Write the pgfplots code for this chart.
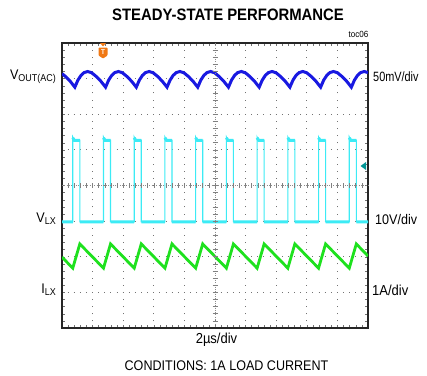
\documentclass[border=0pt]{standalone}
\usepackage{fontspec}
\setmainfont{Liberation Sans}[FakeStretch=0.9]
\usepackage{graphicx}
\usepackage{pgfplots}
\pgfplotsset{compat=1.18}
\definecolor{trblue}{RGB}{25,25,225}
\definecolor{trcyan}{RGB}{60,235,245}
\definecolor{trgreen}{RGB}{30,225,30}
\definecolor{trorange}{RGB}{240,120,20}
\definecolor{trteal}{RGB}{0,150,150}
\begin{document}
\begin{tikzpicture}
\path[use as bounding box] (0,0) rectangle (427bp,-376bp);
\begin{axis}[
  at={(62bp,-328bp)}, anchor=south west,
  scale only axis, width=306bp, height=285bp,
  xmin=0, xmax=10, ymin=0, ymax=8,
  xtick={0,...,10}, ytick={0,...,8},
  minor x tick num=4, minor y tick num=4,
  xticklabels={}, yticklabels={},
  tick align=inside,
  major tick length=3bp, minor tick length=3bp,
  tick style={black!55, line width=0.5bp},
  axis line style={black!85, line width=1.2bp},
  grid=major,
  x grid style={black!55, line width=1bp, dash pattern=on 1bp off 6.125bp, dash phase=0.5bp},
  y grid style={black!55, line width=1bp, dash pattern=on 1bp off 5.12bp, dash phase=0.5bp},
  unbounded coords=jump,
]
% VOUT(AC) ripple
\addplot[trblue, line width=3bp] coordinates {
(0,7.14) (0.124,7.055) (0.274,6.92)
(0.42,6.76) (0.52,6.958) (0.62,7.09) (0.72,7.169) (0.84,7.20) (0.97,7.165) (1.12,7.059) (1.27,6.927)
(1.424,6.76) (1.524,6.958) (1.624,7.09) (1.724,7.169) (1.844,7.20) (1.974,7.165) (2.124,7.059) (2.274,6.927)
(2.428,6.76) (2.528,6.958) (2.628,7.09) (2.728,7.169) (2.848,7.20) (2.978,7.165) (3.128,7.059) (3.278,6.927)
(3.432,6.76) (3.532,6.958) (3.632,7.09) (3.732,7.169) (3.852,7.20) (3.982,7.165) (4.132,7.059) (4.282,6.927)
(4.436,6.76) (4.536,6.958) (4.636,7.09) (4.736,7.169) (4.856,7.20) (4.986,7.165) (5.136,7.059) (5.286,6.927)
(5.44,6.76) (5.54,6.958) (5.64,7.09) (5.74,7.169) (5.86,7.20) (5.99,7.165) (6.14,7.059) (6.29,6.927)
(6.444,6.76) (6.544,6.958) (6.644,7.09) (6.744,7.169) (6.864,7.20) (6.994,7.165) (7.144,7.059) (7.294,6.927)
(7.448,6.76) (7.548,6.958) (7.648,7.09) (7.748,7.169) (7.868,7.20) (7.998,7.165) (8.148,7.059) (8.298,6.927)
(8.452,6.76) (8.552,6.958) (8.652,7.09) (8.752,7.169) (8.872,7.20) (9.002,7.165) (9.152,7.059) (9.302,6.927)
(9.456,6.76) (9.556,6.958) (9.656,7.09) (9.756,7.169) (9.876,7.20) (10,7.17)
};
% VLX switching node (thin full trace)
\addplot[trcyan, line width=1.1bp] coordinates {
(0,2.98)
(0.352,2.98) (0.352,5.36) (0.400,5.27) (0.582,5.27) (0.582,2.98)
(1.356,2.98) (1.356,5.36) (1.404,5.27) (1.586,5.27) (1.586,2.98)
(2.360,2.98) (2.360,5.36) (2.408,5.27) (2.590,5.27) (2.590,2.98)
(3.364,2.98) (3.364,5.36) (3.412,5.27) (3.594,5.27) (3.594,2.98)
(4.368,2.98) (4.368,5.36) (4.416,5.27) (4.598,5.27) (4.598,2.98)
(5.372,2.98) (5.372,5.36) (5.420,5.27) (5.602,5.27) (5.602,2.98)
(6.376,2.98) (6.376,5.36) (6.424,5.27) (6.606,5.27) (6.606,2.98)
(7.380,2.98) (7.380,5.36) (7.428,5.27) (7.610,5.27) (7.610,2.98)
(8.384,2.98) (8.384,5.36) (8.432,5.27) (8.614,5.27) (8.614,2.98)
(9.388,2.98) (9.388,5.36) (9.436,5.27) (9.618,5.27) (9.618,2.98)
(10,2.98)
};
% VLX noisy flat levels (thicker)
\addplot[trcyan, line width=3bp] coordinates {
(0,2.98) (0.352,2.98) (0.46,nan)
(0.352,5.34) (0.400,5.27) (0.582,5.27) (0.6,nan)
(0.582,2.98) (1.356,2.98) (1.37,nan)
(1.356,5.34) (1.404,5.27) (1.586,5.27) (1.6,nan)
(1.586,2.98) (2.360,2.98) (2.37,nan)
(2.360,5.34) (2.408,5.27) (2.590,5.27) (2.6,nan)
(2.590,2.98) (3.364,2.98) (3.37,nan)
(3.364,5.34) (3.412,5.27) (3.594,5.27) (3.6,nan)
(3.594,2.98) (4.368,2.98) (4.37,nan)
(4.368,5.34) (4.416,5.27) (4.598,5.27) (4.6,nan)
(4.598,2.98) (5.372,2.98) (5.38,nan)
(5.372,5.34) (5.420,5.27) (5.602,5.27) (5.61,nan)
(5.602,2.98) (6.376,2.98) (6.38,nan)
(6.376,5.34) (6.424,5.27) (6.606,5.27) (6.61,nan)
(6.606,2.98) (7.380,2.98) (7.39,nan)
(7.380,5.34) (7.428,5.27) (7.610,5.27) (7.62,nan)
(7.610,2.98) (8.384,2.98) (8.39,nan)
(8.384,5.34) (8.432,5.27) (8.614,5.27) (8.62,nan)
(8.614,2.98) (9.388,2.98) (9.39,nan)
(9.388,5.34) (9.436,5.27) (9.618,5.27) (9.62,nan)
(9.618,2.98) (10,2.98)
};
% ILX inductor current
\addplot[trgreen, line width=2.8bp] coordinates {
(0,1.99) (0.352,1.68) (0.582,2.36) (1.356,1.68) (1.586,2.36) (2.36,1.68) (2.59,2.36)
(3.364,1.68) (3.594,2.36) (4.368,1.68) (4.598,2.36) (5.372,1.68) (5.602,2.36)
(6.376,1.68) (6.606,2.36) (7.38,1.68) (7.61,2.36) (8.384,1.68) (8.614,2.36)
(9.388,1.68) (9.618,2.36) (10,2.02)
};
\end{axis}
% center graticule cross with fine ticks
\draw[black!45, line width=0.8bp, dash pattern=on 0.9bp off 1.4bp] (62bp,-185.5bp) -- (368bp,-185.5bp);
\draw[black!45, line width=0.8bp, dash pattern=on 0.9bp off 1.4bp] (215bp,-43bp) -- (215bp,-328bp);
\foreach \i in {1,...,49}{
  \draw[black!50, line width=0.6bp] ({62bp+\i*6.12bp},-183bp) -- ({62bp+\i*6.12bp},-188bp);
}
\foreach \i in {1,...,39}{
  \draw[black!50, line width=0.6bp] (212.5bp,{-43bp-\i*7.125bp}) -- (217.5bp,{-43bp-\i*7.125bp});
}
% trigger markers
\fill[trorange] (100bp,-43bp) -- (106bp,-43bp) -- (103bp,-46.5bp) -- cycle;
\fill[trorange, rounded corners=0.8bp] (98.5bp,-47.5bp) -- (107.5bp,-47.5bp) -- (107.5bp,-55.5bp) -- (103bp,-58.5bp) -- (98.5bp,-55.5bp) -- cycle;
\node[text=white, font=\fontsize{7}{7}\selectfont\bfseries, inner sep=0pt] at (103bp,-52.5bp) {T};
\fill[trteal] (360.5bp,-166bp) -- (366bp,-162bp) -- (366bp,-170bp) -- cycle;
% texts
\node[font=\fontsize{16.6}{18}\selectfont\bfseries, inner sep=0pt] at (228bp,-15bp) {STEADY-STATE PERFORMANCE};
\node[font=\fontsize{9}{10}\selectfont, inner sep=0pt] at (358.5bp,-34bp) {toc06};
\node[anchor=east, inner sep=0pt, font=\fontsize{14}{16}\selectfont] at (56bp,-77bp) {V\raisebox{-0.3ex}{\fontsize{10}{11}\selectfont OUT(AC)}};
\node[anchor=east, inner sep=0pt, font=\fontsize{14}{16}\selectfont] at (56bp,-219bp) {V\raisebox{-0.3ex}{\fontsize{10}{11}\selectfont LX}};
\node[anchor=east, inner sep=0pt, font=\fontsize{14}{16}\selectfont] at (56bp,-290bp) {I\raisebox{-0.3ex}{\fontsize{10}{11}\selectfont LX}};
\node[anchor=west, inner sep=0pt, font=\fontsize{13.5}{15}\selectfont] at (373bp,-77bp) {\scalebox{0.9}[1]{50mV/div}};
\node[anchor=west, inner sep=0pt, font=\fontsize{14}{16}\selectfont] at (375bp,-220bp) {10V/div};
\node[anchor=west, inner sep=0pt, font=\fontsize{14.5}{16}\selectfont] at (372bp,-290bp) {1A/div};
\node[inner sep=0pt, font=\fontsize{14.5}{16}\selectfont] at (216.5bp,-340bp) {2µs/div};
\node[inner sep=0pt, font=\fontsize{14}{16}\selectfont] at (226.5bp,-366bp) {CONDITIONS: 1A LOAD CURRENT};
\end{tikzpicture}
\end{document}
